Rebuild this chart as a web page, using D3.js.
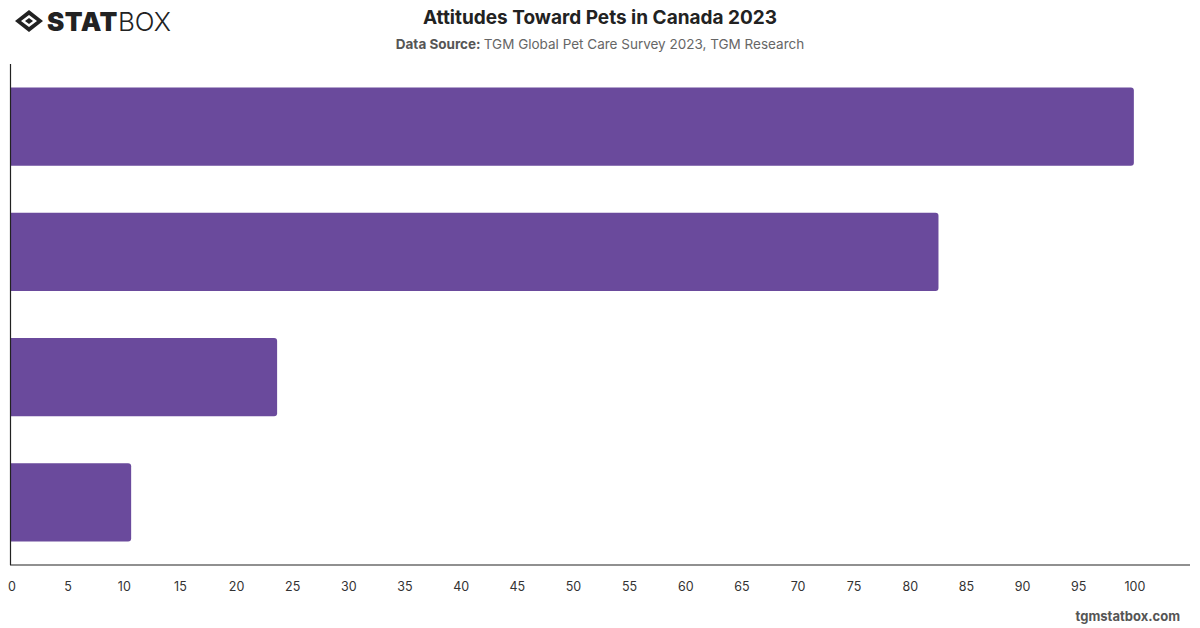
<!DOCTYPE html>
<html>
<head>
<meta charset="utf-8">
<script src="https://cdn.jsdelivr.net/npm/d3@7"></script>
<style>
  body { margin: 0; background: #fff; font-family: Inter, "Noto Sans", sans-serif; }
</style>
</head>
<body>
<div id="chart"></div>
<script>
// values, labels are not printed on the chart
const categories = ["Attitude 1", "Attitude 2", "Attitude 3", "Attitude 4"];
const values = [100, 82.6, 23.7, 10.7];
const xTicks = d3.range(0, 101, 5);

const W = 1200, H = 628;
const margin = { top: 64, left: 11, right: 10, bottom: 63 };

const svg = d3.select("#chart").append("svg")
  .attr("width", W)
  .attr("height", H);

let x = d3.scaleLinear()
  .domain([0, 105])
  .range([margin.left, W - margin.right]);

let y = d3.scaleBand()
  .domain(categories)
  .range([margin.top, H - margin.bottom])
  .paddingInner(0.376)
  .paddingOuter(0.188);

// bars, rounded on the right end only
function barPath(d, i) {
  const x0 = x(0), x1 = x(d), y0 = y(categories[i]), h = y.bandwidth(), r = 3;
  return `M${x0},${y0}H${x1 - r}Q${x1},${y0} ${x1},${y0 + r}V${y0 + h - r}Q${x1},${y0 + h} ${x1 - r},${y0 + h}H${x0}Z`;
}

svg.append("g")
  .selectAll("path")
  .data(values)
  .join("path")
    .attr("d", barPath)
    .attr("fill", "#6a4a9c");

// axes lines
svg.append("line")
  .attr("x1", x(0) - 0.5).attr("x2", x(0) - 0.5)
  .attr("y1", margin.top).attr("y2", H - margin.bottom)
  .attr("stroke", "#222").attr("stroke-width", 1.2);

let xAxis = d3.axisBottom(x)
  .tickValues(xTicks)
  .tickSize(0)
  .tickPadding(17)
  .tickFormat(d3.format("d"));

let gx = svg.append("g")
  .attr("transform", `translate(0,${H - margin.bottom})`)
  .call(xAxis);
gx.select(".domain").attr("stroke", "#222").attr("stroke-width", 1.2)
  .attr("d", `M${x(0) - 1},0H${W - margin.right}`);
gx.selectAll("text")
  .attr("font-family", "Inter, sans-serif")
  .attr("font-size", 12.5)
  .attr("fill", "#333")
  .attr("dx", 0.5);

// title + source
svg.append("text")
  .attr("x", 600).attr("y", 24)
  .attr("text-anchor", "middle")
  .attr("font-family", "Inter, sans-serif")
  .attr("font-weight", 700)
  .attr("font-size", 19)
  .attr("fill", "#222")
  .text("Attitudes Toward Pets in Canada 2023");

let src = svg.append("text")
  .attr("x", 600).attr("y", 49)
  .attr("text-anchor", "middle")
  .attr("font-family", "Inter, sans-serif")
  .attr("font-size", 13.5)
  .attr("fill", "#666");
src.append("tspan").attr("font-weight", 700).attr("fill", "#555").text("Data Source: ");
src.append("tspan").text("TGM Global Pet Care Survey 2023, TGM Research");

// footer
svg.append("text")
  .attr("x", 1180).attr("y", 621)
  .attr("text-anchor", "end")
  .attr("font-family", "Inter, sans-serif")
  .attr("font-weight", 700)
  .attr("font-size", 13)
  .attr("fill", "#555")
  .text("tgmstatbox.com");

// logo
let logo = svg.append("g").attr("transform", "translate(15,10)");
logo.append("path")
  .attr("d", "M14,0L28,11L14,22L0,11Z M14,5L22,11L14,17L6,11Z")
  .attr("fill", "#222").attr("fill-rule", "evenodd");
logo.append("path")
  .attr("d", "M14,8L18,11L14,14L10,11Z")
  .attr("fill", "#222");
let lt = logo.append("text")
  .attr("x", 32).attr("y", 21)
  .attr("font-family", "Inter, sans-serif")
  .attr("font-size", 26)
  .attr("fill", "#222");
lt.append("tspan").attr("font-weight", 900).attr("letter-spacing", 0.5).text("STAT");
lt.append("tspan").attr("font-weight", 300).text("BOX");
</script>
</body>
</html>
